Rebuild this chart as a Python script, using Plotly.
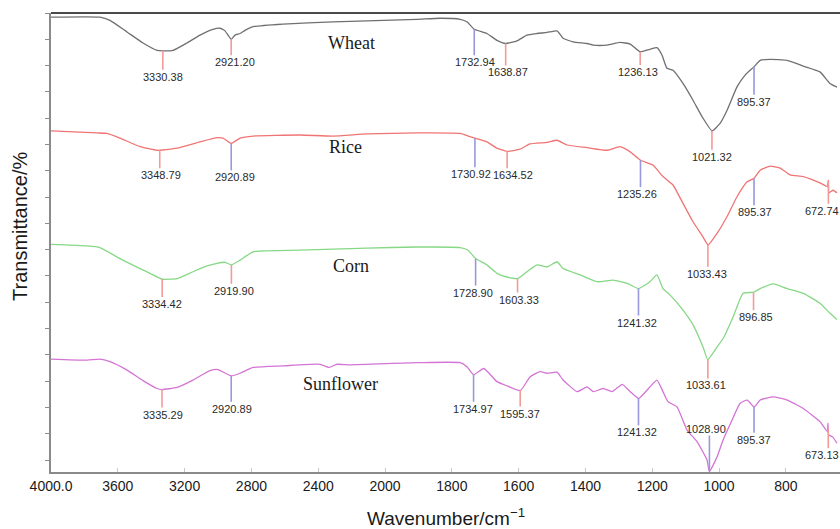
import numpy as np
import plotly.graph_objects as go

# ---------------- spectra (wavenumber in cm-1, stacked transmittance) ----------------
wheat_wn = [4000, 3707, 3647, 3545, 3449, 3365, 3330, 3269, 3186, 3108,
            3030, 2988, 2958, 2921, 2898, 2868, 2838, 2790, 2611, 2311,
            2108, 1904, 1835, 1775, 1754, 1733, 1695, 1665, 1639, 1605,
            1575, 1545, 1515, 1485, 1467, 1437, 1395, 1377, 1335, 1296,
            1266, 1236, 1207, 1186, 1171, 1156, 1138, 1108, 1078, 1051,
            1021, 997, 976, 946, 922, 895, 877, 847, 796, 748,
            698, 668, 647]
wheat_t = [84.2, 84.2, 83.6, 81.4, 79.3, 77.9, 77.8, 77.9, 79.3, 80.8,
           81.9, 82.1, 81.6, 80.0, 80.8, 81.1, 81.7, 82.4, 82.9, 83.3,
           83.5, 83.8, 84.0, 83.8, 83.3, 81.9, 81.1, 79.8, 79.2, 79.7,
           80.8, 81.1, 81.3, 81.6, 80.2, 79.5, 79.2, 78.9, 78.9, 79.4,
           79.1, 77.6, 78.1, 78.4, 77.0, 74.5, 74.1, 71.6, 68.4, 65.3,
           62.6, 64.0, 66.5, 71.0, 73.2, 74.8, 76.0, 76.2, 76.0, 74.9,
           73.8, 71.6, 70.9]

rice_wn = [4000, 3725, 3665, 3587, 3467, 3365, 3349, 3246, 3108, 3006,
           2970, 2921, 2868, 2790, 2509, 2311, 2108, 1904, 1775, 1751,
           1731, 1695, 1665, 1635, 1596, 1566, 1515, 1485, 1455, 1395,
           1335, 1296, 1266, 1235, 1198, 1168, 1138, 1108, 1078, 1048,
           1033, 1006, 976, 946, 916, 895, 877, 847, 817, 787,
           748, 698, 676, 673, 671, 659, 647]
rice_t = [62.6, 62.2, 62.1, 61.2, 59.6, 58.9, 58.9, 59.3, 60.5, 61.3,
          61.2, 60.2, 61.2, 61.6, 61.8, 61.6, 62.0, 62.2, 62.1, 61.6,
          61.2, 60.5, 59.3, 58.7, 59.1, 60.1, 60.4, 60.8, 59.9, 59.4,
          58.9, 59.6, 58.6, 57.0, 56.1, 53.9, 52.3, 48.8, 45.3, 42.4,
          40.9, 43.1, 46.3, 50.1, 52.9, 53.6, 55.1, 55.9, 55.5, 54.2,
          53.9, 52.7, 52.0, 53.2, 50.8, 51.3, 50.8]

corn_wn = [4000, 3784, 3707, 3587, 3467, 3407, 3334, 3246, 3150, 3066,
           3006, 2958, 2920, 2868, 2790, 2509, 2108, 1904, 1775, 1751,
           1729, 1695, 1665, 1635, 1603, 1575, 1545, 1515, 1485, 1467,
           1416, 1365, 1317, 1275, 1241, 1207, 1186, 1168, 1147, 1108,
           1078, 1048, 1034, 1006, 988, 958, 928, 897, 877, 838,
           796, 748, 698, 668, 647]
corn_t = [41.0, 40.7, 40.4, 38.3, 36.4, 35.5, 34.4, 34.5, 35.8, 36.9,
          37.4, 37.6, 37.1, 38.0, 39.6, 39.9, 40.3, 40.5, 40.4, 39.9,
          38.3, 37.1, 35.5, 34.8, 34.5, 35.8, 37.1, 36.7, 37.7, 36.4,
          35.2, 33.9, 34.2, 33.6, 32.6, 33.9, 35.2, 32.6, 31.4, 28.5,
          25.7, 21.5, 19.1, 21.5, 23.1, 27.2, 31.7, 31.9, 32.6, 33.5,
          32.6, 31.7, 29.8, 27.9, 26.7]

sunflower_wn = [4000, 3784, 3707, 3647, 3545, 3449, 3365, 3335, 3246, 3150,
                3048, 3000, 2921, 2868, 2790, 2611, 2389, 2335, 2290, 2210,
                1904, 1775, 1754, 1735, 1704, 1665, 1635, 1595, 1566, 1536,
                1515, 1485, 1467, 1425, 1395, 1377, 1347, 1320, 1290, 1266,
                1241, 1207, 1186, 1168, 1153, 1126, 1096, 1066, 1036, 1029,
                1006, 988, 961, 937, 916, 895, 877, 838, 796, 748,
                698, 676, 674, 672, 660, 647]
sunflower_t = [19.2, 19.0, 19.2, 18.7, 17.1, 15.1, 13.6, 13.4, 13.8, 15.2,
               17.0, 17.2, 16.0, 16.5, 17.6, 17.9, 18.2, 17.6, 18.2, 18.1,
               18.5, 18.5, 17.7, 16.2, 17.4, 14.9, 14.1, 13.2, 15.8, 16.8,
               16.5, 16.7, 15.2, 13.0, 13.9, 13.0, 13.6, 13.0, 14.4, 13.0,
               11.7, 13.9, 15.2, 13.0, 11.1, 10.1, 5.7, 3.5, 0.0, -2.2,
               0.6, 3.8, 7.6, 10.8, 11.4, 10.1, 11.4, 12.0, 11.4, 9.8,
               7.3, 5.4, 7.0, 4.8, 4.4, 3.2]

# ---------------- labelled band positions (cm-1) ----------------
wheat_peaks = [3330.38, 2921.20, 1732.94, 1638.87, 1236.13, 1021.32, 895.37]
rice_peaks = [3348.79, 2920.89, 1730.92, 1634.52, 1235.26, 1033.43, 895.37, 672.74]
corn_peaks = [3334.42, 2919.90, 1728.90, 1603.33, 1241.32, 1033.61, 896.85]
sunflower_peaks = [3335.29, 2920.89, 1734.97, 1595.37, 1241.32, 1028.90, 895.37, 673.13]

# marker styling per band: colour key, stick length (px, negative = upward), label nudge (px)
wheat_style = [("r", 19, 0), ("r", 16, 4), ("b", 26, 1), ("r", 22, 2),
               ("r", 13, -2), ("r", 19, 0), ("b", 28, 0)]
rice_style = [("r", 18, 1), ("b", 27, 4), ("b", 29, -4), ("r", 17, 6),
              ("b", 27, -3), ("r", 22, -1), ("b", 27, 1), ("r", 22, -6)]
corn_style = [("r", 18, 0), ("r", 19, 3), ("b", 27, -3), ("r", 14, 1),
              ("b", 27, -1), ("r", 19, -2), ("r", 18, 2)]
sunflower_style = [("r", 18, 1), ("b", 26, 1), ("b", 27, -1), ("r", 16, 0),
                   ("b", 27, -1), ("b", -36, -3), ("b", 26, 0), ("r", 20, -6)]

# sample name placement (wavenumber, stacked transmittance)
name_pos = {"Wheat": (2198, 79.3), "Rice": (2234, 59.6),
            "Corn": (2204, 36.9), "Sunflower": (2264, 14.4)}

series = [
    ("Wheat", wheat_wn, wheat_t, wheat_peaks, wheat_style, "#707070"),
    ("Rice", rice_wn, rice_t, rice_peaks, rice_style, "#f07474"),
    ("Corn", corn_wn, corn_t, corn_peaks, corn_style, "#86d886"),
    ("Sunflower", sunflower_wn, sunflower_t, sunflower_peaks, sunflower_style, "#d474d4"),
]

# x ticks (wavenumber)
tick_wn = [4000, 3600, 3200, 2800, 2400, 2000, 1800, 1600, 1400, 1200, 1000, 800]
tick_text = ["4000.0", "3600", "3200", "2800", "2400", "2000",
             "1800", "1600", "1400", "1200", "1000", "800"]

MARK_COLORS = {"r": "#f39a9a", "b": "#9898dc"}
SANS = "Liberation Sans, Arial, sans-serif"
SERIF = "Liberation Serif, Times New Roman, serif"


def axis_pos(wn):
    """Instrument-style abscissa: half scale above 2000 cm-1."""
    wn = np.asarray(wn, dtype=float)
    return np.where(wn > 2000, 2000 + (wn - 2000) / 2.0, wn)


# ---------------- layout geometry ----------------
W, H = 840, 529
ML, MR, MT, MB = 51, 0, 13, 57
Y_RANGE = [-2.28, 85.0]
plot_h = H - MT - MB
px_per_unit = plot_h / (Y_RANGE[1] - Y_RANGE[0])

fig = go.Figure()

for name, wn, t, peaks, style, color in series:
    assert len(wn) == len(t)
    u = axis_pos(wn)
    fig.add_trace(go.Scatter(
        x=u, y=t, mode="lines", name=name, showlegend=False,
        line=dict(color=color, width=1.3, shape="spline", smoothing=0.45),
        hoverinfo="skip",
    ))

    # sticks for labelled bands
    u_sorted = u[::-1]
    t_sorted = np.asarray(t, dtype=float)[::-1]
    seg = {"r": ([], []), "b": ([], [])}
    for pk, (ck, drop, dx) in zip(peaks, style):
        up = float(axis_pos(pk))
        y0 = float(np.interp(up, u_sorted, t_sorted))
        y1 = y0 - drop / px_per_unit
        xs, ys = seg[ck]
        xs += [up, up, None]
        ys += [y0, y1, None]
        fig.add_annotation(
            x=up, y=y1, xref="x", yref="y", text=f"{pk:.2f}",
            showarrow=False, xshift=dx,
            yanchor="top" if drop > 0 else "bottom",
            font=dict(family=SANS, size=11, color="#2a2a2a"),
            borderpad=0,
        )
    for ck, (xs, ys) in seg.items():
        if xs:
            fig.add_trace(go.Scatter(
                x=xs, y=ys, mode="lines", showlegend=False, hoverinfo="skip",
                line=dict(color=MARK_COLORS[ck], width=1.6),
            ))

    # sample name
    nx, ny = name_pos[name]
    fig.add_annotation(
        x=float(axis_pos(nx)), y=ny, xref="x", yref="y",
        text=name, showarrow=False, xanchor="center", yanchor="middle",
        font=dict(family=SERIF, size=18, color="#1a1a1a"),
    )

# axis titles
fig.add_annotation(
    x=0.5, y=-(517 - (H - MB)) / plot_h, xref="paper", yref="paper",
    text="Wavenumber/cm<sup>−1</sup>", showarrow=False,
    xanchor="center", yanchor="middle",
    font=dict(family=SANS, size=19, color="#1a1a1a"),
)
fig.add_annotation(
    x=(20 - ML) / (W - ML - MR), y=((H - MB) - 226) / plot_h, xref="paper", yref="paper",
    text="Transmittance/%", showarrow=False, textangle=-90,
    xanchor="center", yanchor="middle",
    font=dict(family=SANS, size=20, color="#1a1a1a"),
)

# top frame line
fig.add_shape(type="line", xref="paper", yref="paper", x0=0, x1=1, y0=1, y1=1,
              line=dict(color="#4a4a4a", width=2))

fig.update_layout(
    width=W, height=H,
    margin=dict(l=ML, r=MR, t=MT, b=MB),
    paper_bgcolor="white", plot_bgcolor="white",
    xaxis=dict(
        range=[3000, float(axis_pos(638))],
        tickmode="array", tickvals=axis_pos(tick_wn).tolist(), ticktext=tick_text,
        showgrid=False, zeroline=False,
        showline=True, linecolor="#8a8a8a", linewidth=1.5,
        ticks="inside", ticklen=4, tickcolor="#c8c8c8",
        tickfont=dict(family=SANS, size=14, color="#1a1a1a"),
    ),
    yaxis=dict(
        range=Y_RANGE, tickmode="linear", tick0=0, dtick=5,
        showticklabels=False, showgrid=False, zeroline=False,
        showline=True, linecolor="#8a8a8a", linewidth=1.5,
        ticks="outside", ticklen=4, tickcolor="#8a8a8a",
    ),
)

fig.write_html("out.html")
